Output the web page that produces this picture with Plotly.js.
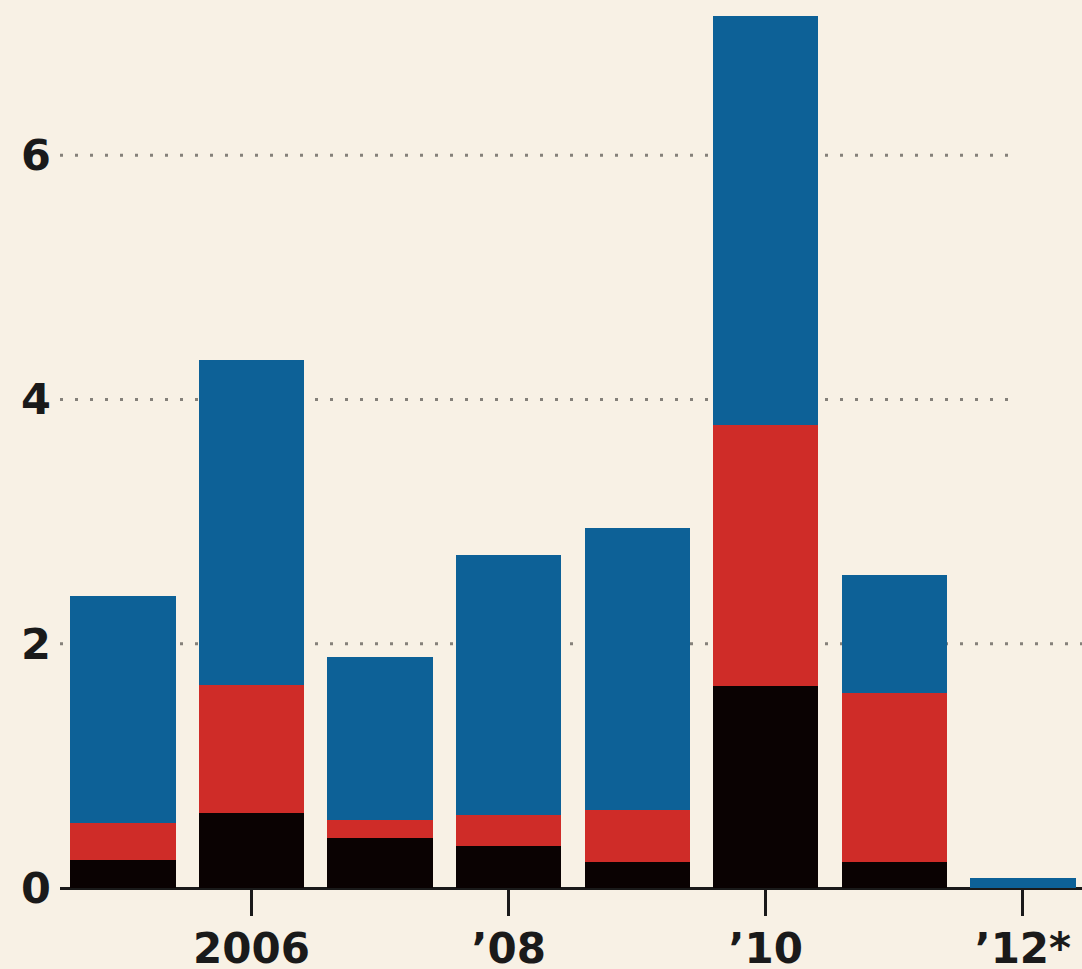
<!DOCTYPE html>
<html>
<head>
<meta charset="utf-8">
<script src="https://cdn.plot.ly/plotly-3.0.1.min.js"></script>
<style>html,body{margin:0;padding:0;background:#f8f1e5;}#chart{width:1082px;height:969px;}</style>
</head>
<body>
<div id="chart"></div>
<script>
const years = [2005, 2006, 2007, 2008, 2009, 2010, 2011, 2012];
const blackValues = [0.23, 0.61, 0.41, 0.34, 0.21, 1.65, 0.21, 0];
const redValues = [0.30, 1.05, 0.15, 0.26, 0.43, 2.14, 1.39, 0];
const blueValues = [1.86, 2.66, 1.33, 2.13, 2.31, 3.35, 0.96, 0.08];
const xTickVals = [2006, 2008, 2010, 2012];
const xTickText = ['2006', '\u201908', '\u201910', '\u201912*'];
const yTickVals = [0, 2, 4, 6];
const gridVals = [2, 4, 6];

const bg = '#f8f1e5';
const font = {family: 'DejaVu Sans, sans-serif', size: 43, color: '#1a1a1a', weight: 700};
const xFont = {family: 'DejaVu Sans, sans-serif', size: 42, color: '#1a1a1a', weight: 700};

function barTrace(vals, color, name) {
  return {type: 'bar', x: years, y: vals, name: name, width: 0.82,
          marker: {color: color, line: {width: 0}}, hoverinfo: 'skip'};
}

const data = [
  barTrace(blackValues, '#0a0202', 'black'),
  barTrace(redValues, '#cf2c28', 'red'),
  barTrace(blueValues, '#0d6197', 'blue')
];

const shapes = gridVals.map(v => ({
  type: 'line', xref: 'paper', yref: 'y', layer: 'below',
  x0: 0, x1: v === 2 ? 1 : 0.936, y0: v, y1: v,
  line: {color: '#85817a', width: 3, dash: '3px,12px'}
}));

const layout = {
  width: 1082, height: 969,
  margin: {l: 60, r: 0, t: 0, b: 81, pad: 0},
  paper_bgcolor: bg, plot_bgcolor: bg,
  barmode: 'stack', showlegend: false,
  font: font,
  xaxis: {range: [2004.51, 2012.46], tickvals: xTickVals, ticktext: xTickText,
          ticks: 'outside', ticklen: 27, tickwidth: 3, tickcolor: '#1a1a1a',
          showgrid: false, zeroline: false, showline: false, fixedrange: true,
          ticklabelstandoff: -3, tickfont: xFont},
  yaxis: {range: [0, 7.27], tickvals: yTickVals, ticktext: yTickVals.map(String),
          showgrid: false, zeroline: true, zerolinecolor: '#1a1a1a', zerolinewidth: 3,
          showline: false, ticks: '', tickfont: font, fixedrange: true,
          ticklabelstandoff: 8},
  shapes: shapes
};

Plotly.newPlot('chart', data, layout, {displayModeBar: false, staticPlot: true});
</script>
</body>
</html>
